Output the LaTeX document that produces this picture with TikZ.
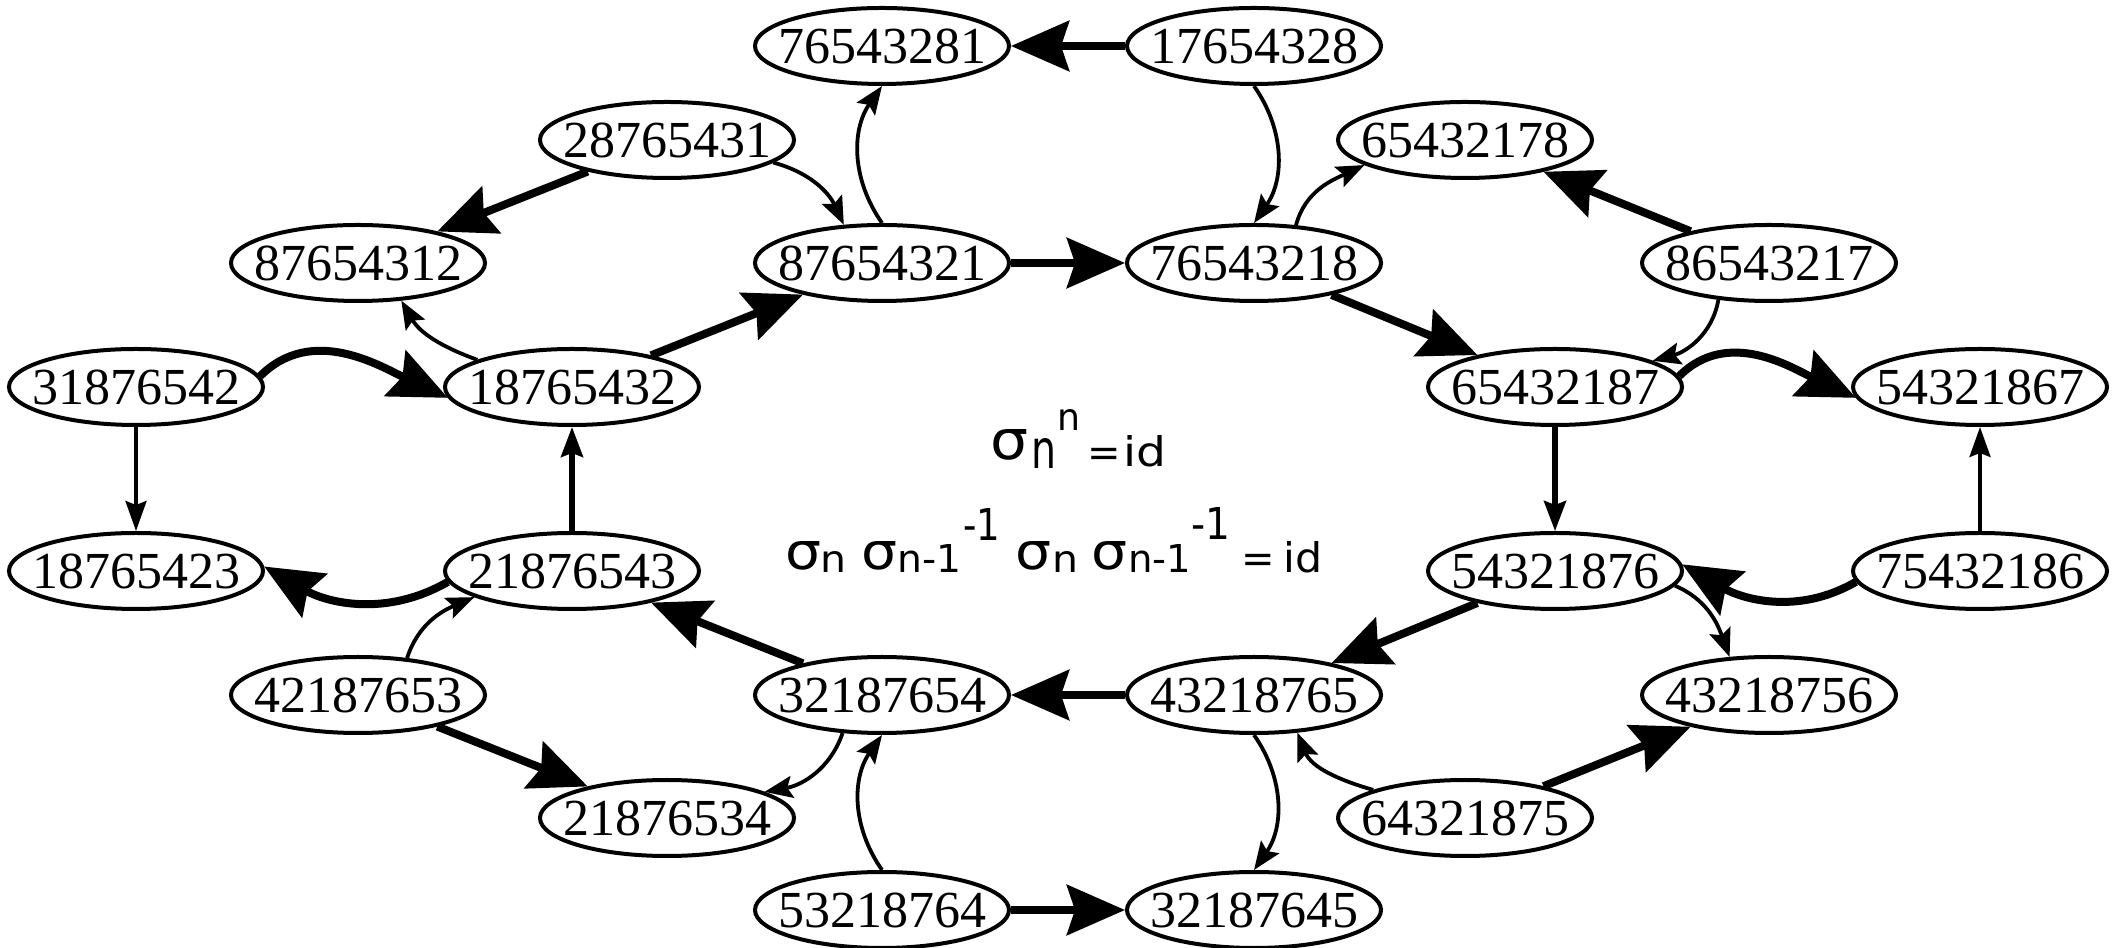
\documentclass[tikz,border=0pt]{standalone}
\usepackage{graphicx}
\usepackage{fontspec}
\setmainfont{Liberation Serif}
\newfontfamily\formfont{DejaVu Sans}
\usetikzlibrary{arrows.meta,shapes.geometric}
\newcommand\permtxt[1]{\makebox[0pt]{#1}}
\newcommand\RB[3]{\resizebox{#1}{#2}{\fontsize{20}{20}\selectfont #3}}
\newcommand\FT[2]{\fontsize{#1}{#1}\selectfont #2}
\begin{document}
\begin{tikzpicture}[x=0.5pt,y=0.5pt,
  perm/.style={draw, ellipse, line width=2pt, minimum width=127pt, minimum height=38pt,
    inner sep=0pt, fill=white, font=\fontsize{26}{26}\selectfont},
  bigarr/.style={line width=4pt, -{Stealth[length=29pt,width=25pt,inset=4pt]}},
  thinarr/.style={line width=1.9pt, -{Stealth[length=14pt,width=11pt,inset=2.5pt]}},
  vmedarr/.style={line width=2.6pt, -{Stealth[length=15pt,width=11pt,inset=2pt]}},
  vthinarr/.style={line width=1.8pt, -{Stealth[length=15pt,width=10.5pt,inset=2pt]}},
  fp/.style={anchor=base west, inner sep=0pt, font=\formfont}
]
\useasboundingbox (0,0) rectangle (2118,947);
\fill[white] (0,0) rectangle (2118,947);
% nodes
\node[perm] (a1) at (882,901) {\permtxt{76543281}};
\node[perm] (a2) at (1254,901) {\permtxt{17654328}};
\node[perm] (b1) at (667,807) {\permtxt{28765431}};
\node[perm] (b2) at (1465,807) {\permtxt{65432178}};
\node[perm] (c1) at (358,684) {\permtxt{87654312}};
\node[perm] (c2) at (882,684) {\permtxt{87654321}};
\node[perm] (c3) at (1254,684) {\permtxt{76543218}};
\node[perm] (c4) at (1769,684) {\permtxt{86543217}};
\node[perm] (d1) at (136,560) {\permtxt{31876542}};
\node[perm] (d2) at (572,560) {\permtxt{18765432}};
\node[perm] (d3) at (1555,560) {\permtxt{65432187}};
\node[perm] (d4) at (1980,560) {\permtxt{54321867}};
\node[perm] (e1) at (136,376) {\permtxt{18765423}};
\node[perm] (e2) at (572,376) {\permtxt{21876543}};
\node[perm] (e3) at (1555,376) {\permtxt{54321876}};
\node[perm] (e4) at (1980,376) {\permtxt{75432186}};
\node[perm] (f1) at (358,252) {\permtxt{42187653}};
\node[perm] (f2) at (882,252) {\permtxt{32187654}};
\node[perm] (f3) at (1254,252) {\permtxt{43218765}};
\node[perm] (f4) at (1769,252) {\permtxt{43218756}};
\node[perm] (g1) at (667,129) {\permtxt{21876534}};
\node[perm] (g2) at (1465,129) {\permtxt{64321875}};
\node[perm] (h1) at (882,37) {\permtxt{53218764}};
\node[perm] (h2) at (1254,37) {\permtxt{32187645}};
% formula 1
\node[fp] (p1a) at (990,487) {\RB{19pt}{15pt}{σ}};
\node[fp] (p1b) at (1031,478) {\RB{12.5pt}{15pt}{n}};
\node[fp] (p1c) at (1057,516) {\RB{11.5pt}{10.5pt}{n}};
\node[fp] (p1d) at (1087,480) {\FT{20}{=}};
\node[fp] (p1e) at (1123,480) {\RB{21.5pt}{15.5pt}{id}};
% formula 2
\node[fp] (p2a) at (785,377) {\RB{18pt}{14pt}{σ}};
\node[fp] (p2b) at (820,374) {\RB{13pt}{10.5pt}{n}};
\node[fp] (p2c) at (861,377) {\RB{18pt}{14pt}{σ}};
\node[fp] (p2d) at (897,374) {\RB{32pt}{14pt}{n-1}};
\node[fp] (p2e) at (963,406) {\RB{18.5pt}{16pt}{-1}};
\node[fp] (p2f) at (1015,377) {\RB{18pt}{14pt}{σ}};
\node[fp] (p2g) at (1052,374) {\RB{13pt}{10.5pt}{n}};
\node[fp] (p2h) at (1091,377) {\RB{18pt}{14pt}{σ}};
\node[fp] (p2i) at (1128,374) {\RB{31.5pt}{14pt}{n-1}};
\node[fp] (p2j) at (1191,407) {\RB{19.5pt}{16pt}{-1}};
\node[fp] (p2k) at (1241,374) {\FT{20}{=}};
\node[fp] (p2l) at (1283,374) {\RB{19.5pt}{15.5pt}{id}};
% edges
\draw[bigarr] (a2) -- (a1);
\draw[thinarr] (a2.south) to[bend left=35] (c3.north);
\draw[thinarr] (c2.north) to[bend left=35] (a1.south);
\draw[thinarr] (b1.-12) to[out=-15,in=115] (c2.135);
\draw[bigarr] (b1) -- (c1);
\draw[bigarr] (c2) -- (c3);
\draw[thinarr] (c3.42) to[out=75,in=205] (b2.194);
\draw[bigarr] (c4) -- (b2);
\draw[thinarr] (c4.216) to[out=260,in=15] (d3.15);
\draw[bigarr] (c3) -- (d3);
\draw[bigarr] (d2) -- (c2);
\draw[thinarr] (d2.164) to[out=160,in=-60] (c1.-41);
\draw[bigarr] (d1.5) to[out=45,in=155] (d2.185);
\draw[vthinarr] (d1) -- (e1);
\draw[vmedarr] (e2) -- (d2);
\draw[bigarr] (e2.185) to[out=210,in=330] (e1.2);
\draw[thinarr] (f1.37) to[out=72,in=203] (e2.195);
\draw[bigarr] (f1) -- (g1);
\draw[bigarr] (f2) -- (e2);
\draw[thinarr] (f2.224) to[out=251,in=10] (g1.15);
\draw[bigarr] (f3) -- (f2);
\draw[thinarr] (h1.north) to[bend left=35] (f2.south);
\draw[bigarr] (h1) -- (h2);
\draw[thinarr] (f3.south) to[bend left=35] (h2.north);
\draw[thinarr] (g2.163) to[out=164,in=-68] (f3.-41);
\draw[bigarr] (g2) -- (f4);
\draw[bigarr] (e3) -- (f3);
\draw[thinarr] (e3.-7) to[out=-23,in=110] (f4.136);
\draw[bigarr] (e4.185) to[out=210,in=330] (e3.3);
\draw[vthinarr] (e4) -- (d4);
\draw[bigarr] (d3.5) to[out=45,in=155] (d4.185);
\draw[vmedarr] (d3) -- (e3);
\end{tikzpicture}
\end{document}
